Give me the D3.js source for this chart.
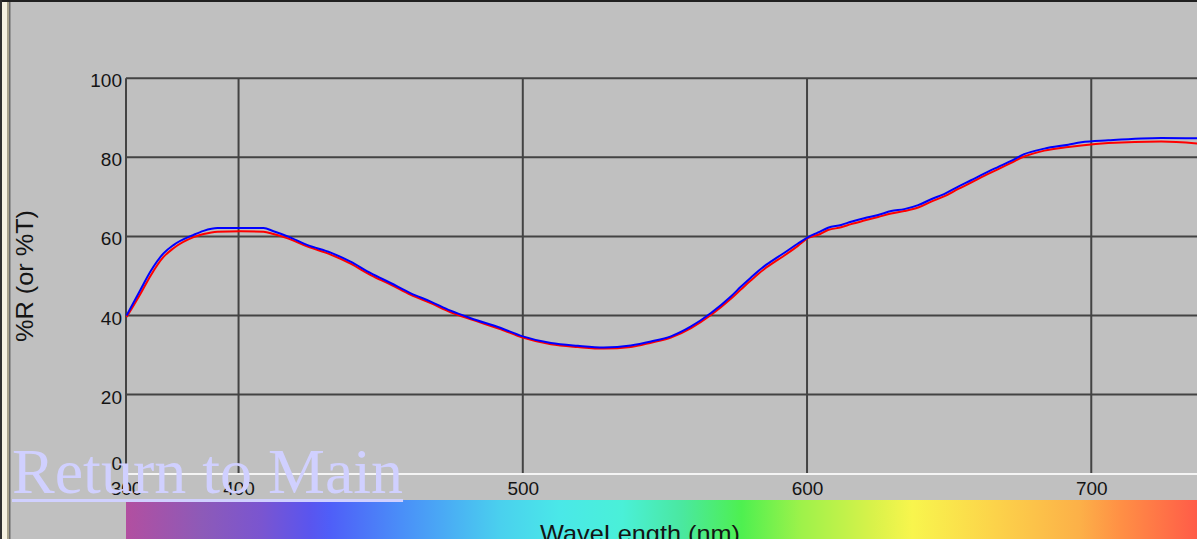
<!DOCTYPE html>
<html>
<head>
<meta charset="utf-8">
<script src="https://cdn.jsdelivr.net/npm/d3@7"></script>
<style>
  html, body { margin: 0; padding: 0; background: #c0c0c0; overflow: hidden; }
  svg { display: block; }
</style>
</head>
<body>
<svg id="chart" width="1197" height="539"></svg>
<script>
// wavelength (nm) of the traced points
var wavelength = [360.6, 365.5, 369, 373.6, 377.1, 384.2, 387.7, 392.6, 400.7, 408.8, 412.3, 417.3, 424.3,
  432.4, 439.4, 446.5, 453.5, 460.6, 467.6, 474.6, 481.7, 492.3, 500, 509.9, 519.4, 528.5, 538, 545.1,
  552.1, 559.2, 566.2, 573.2, 576.8, 580.3, 584.9, 589.8, 591.9, 596.8, 600.4, 603.9, 607.4, 612, 615.5,
  620.1, 625, 629.6, 634.2, 639.1, 643.7, 648.2, 653.2, 657.7, 662.3, 667.3, 671.8, 676.4, 683.5, 691.9,
  696.5, 706, 724.6, 737.7];
// %R, blue trace
var blueValues = [40.0, 46.5, 51.1, 55.7, 57.8, 60.4, 61.4, 62.1, 62.1, 62.1, 61.3, 60.0, 57.8,
  55.9, 53.6, 50.7, 48.2, 45.6, 43.5, 41.2, 39.3, 36.8, 34.7, 33.0, 32.3, 31.9, 32.4, 33.4,
  34.7, 37.2, 40.6, 44.8, 47.3, 49.6, 52.4, 54.8, 55.8, 58.2, 59.8, 61.0, 62.2, 62.9, 63.7,
  64.6, 65.4, 66.4, 66.9, 67.9, 69.4, 70.7, 72.6, 74.2, 75.9, 77.6, 79.1, 80.8, 82.2, 83.2,
  83.8, 84.3, 84.9, 84.8];
// %R, red trace
var redValues = [39.6, 45.5, 50.0, 54.8, 57.0, 59.8, 60.6, 61.2, 61.3, 61.2, 60.6, 59.5, 57.4,
  55.4, 53.1, 50.2, 47.8, 45.2, 43.1, 40.8, 39.0, 36.5, 34.4, 32.7, 32.0, 31.6, 32.0, 33.1,
  34.4, 36.8, 40.1, 44.2, 46.6, 48.9, 51.7, 54.1, 55.1, 57.6, 59.6, 60.4, 61.6, 62.3, 63.1,
  64.0, 64.9, 65.8, 66.4, 67.3, 68.8, 70.1, 72.0, 73.6, 75.3, 77.0, 78.6, 80.2, 81.7, 82.6,
  83.0, 83.6, 84.0, 83.5];

var xTickValues = [360.4, 400, 500, 600, 700];
var xTickLabels = ["300", "400", "500", "600", "700"];
var yTickValues = [0, 20, 40, 60, 80, 100];

// colour band under the axis
var spectrumNm = [360.4, 387, 408, 425, 432, 457, 471, 492, 513, 535, 556, 577, 598, 623, 637, 665, 696, 710, 737.2];
var spectrumColors = ["#b24fa0", "#8d5ab8", "#7a55d0", "#5a55ee", "#4f5ef8", "#4a8ef8", "#4aa8f5", "#4ad0ee",
  "#4ae8e8", "#4af0d8", "#4ae8a0", "#4ef050", "#9ef24a", "#d8f24a", "#f8f54d", "#fcd44a", "#fcb048",
  "#ff9045", "#ff5c48"];

var svg = d3.select("#chart");
var plotLeft = 126, plotRight = 1197, plotTop = 78.3, plotBottom = 473.5;

var x = d3.scaleLinear().domain([360.4, 737.2]).range([plotLeft, plotRight]);
var y = d3.scaleLinear().domain([0, 100]).range([plotBottom, plotTop]);

// window frame
svg.append("rect").attr("x", 0).attr("y", 0).attr("width", 1197).attr("height", 2).attr("fill", "#202020");
svg.append("rect").attr("x", 0).attr("y", 0).attr("width", 2).attr("height", 539).attr("fill", "#303030");
svg.append("rect").attr("x", 2).attr("y", 2).attr("width", 5).attr("height", 537).attr("fill", "#f6f2e2");
svg.append("rect").attr("x", 7).attr("y", 2).attr("width", 2).attr("height", 537).attr("fill", "#aaa48e");
svg.append("rect").attr("x", 9).attr("y", 2).attr("width", 1.5).attr("height", 537).attr("fill", "#6a6a6a");

// spectrum band
var grad = svg.append("defs").append("linearGradient").attr("id", "spec")
  .attr("gradientUnits", "userSpaceOnUse").attr("x1", plotLeft).attr("x2", plotRight).attr("y1", 0).attr("y2", 0);
spectrumNm.forEach(function (nm, i) {
  grad.append("stop").attr("offset", (x(nm) - plotLeft) / (plotRight - plotLeft)).attr("stop-color", spectrumColors[i]);
});
svg.append("rect").attr("x", plotLeft).attr("y", 500).attr("width", plotRight - plotLeft).attr("height", 39).attr("fill", "url(#spec)");

// grid
var gridColor = "#434343";
svg.append("g").selectAll("line").data(yTickValues.slice(1)).join("line")
  .attr("x1", plotLeft).attr("x2", plotRight).attr("y1", function (d) { return y(d); }).attr("y2", function (d) { return y(d); })
  .attr("stroke", gridColor).attr("stroke-width", 2);
svg.append("g").selectAll("line").data(xTickValues).join("line")
  .attr("x1", function (d) { return x(d); }).attr("x2", function (d) { return x(d); })
  .attr("y1", plotTop).attr("y2", plotBottom)
  .attr("stroke", gridColor).attr("stroke-width", 2);
// white base line
svg.append("line").attr("x1", plotLeft).attr("x2", plotRight).attr("y1", plotBottom + 0.5).attr("y2", plotBottom + 0.5)
  .attr("stroke", "#f4f4f4").attr("stroke-width", 2);

// axes (labels only)
var fontTick = "'Liberation Sans', Arial, sans-serif";
var yAxis = svg.append("g").attr("transform", "translate(" + (plotLeft - 4) + ",2.5)")
  .call(d3.axisLeft(y).tickValues(yTickValues).tickSize(0).tickPadding(0));
yAxis.select(".domain").remove();
yAxis.selectAll("text").attr("font-family", fontTick).attr("font-size", 19).attr("fill", "#141414")
  .attr("dy", function (d) { return d === 0 ? "-0.32em" : "0.32em"; });

var xAxis = svg.append("g").attr("transform", "translate(0,481)")
  .call(d3.axisBottom(x).tickValues(xTickValues).tickSize(0).tickPadding(0)
    .tickFormat(function (d, i) { return xTickLabels[i]; }));
xAxis.select(".domain").remove();
xAxis.selectAll("text").attr("font-family", fontTick).attr("font-size", 19).attr("fill", "#141414");

// curves
var line = function (vals) {
  return d3.line().curve(d3.curveMonotoneX)
    .x(function (d, i) { return x(wavelength[i]); }).y(function (d) { return y(d); })(vals);
};
svg.append("path").attr("d", line(redValues)).attr("fill", "none").attr("stroke", "#ff0000").attr("stroke-width", 2);
svg.append("path").attr("d", line(blueValues)).attr("fill", "none").attr("stroke", "#0000ff").attr("stroke-width", 2);

// axis titles
svg.append("text").attr("transform", "translate(33,276) rotate(-90)")
  .attr("text-anchor", "middle").attr("font-family", fontTick).attr("font-size", 24).attr("fill", "#141414")
  .attr("textLength", 132).attr("lengthAdjust", "spacingAndGlyphs")
  .text("%R (or %T)");
svg.append("text").attr("x", 540).attr("y", 542)
  .attr("font-family", fontTick).attr("font-size", 24).attr("fill", "#141414")
  .attr("textLength", 200).attr("lengthAdjust", "spacingAndGlyphs")
  .text("WaveLength (nm)");

// link overlay
var link = svg.append("text").attr("x", 12).attr("y", 493)
  .attr("font-family", "'Liberation Serif', 'Times New Roman', serif").attr("font-size", 64).attr("fill", "#d0d0ff")
  .text("Return to Main");
var bb = link.node().getBBox();
svg.append("rect").attr("x", 12).attr("y", 499).attr("width", bb.width).attr("height", 3).attr("fill", "#d0d0ff");
</script>
</body>
</html>
